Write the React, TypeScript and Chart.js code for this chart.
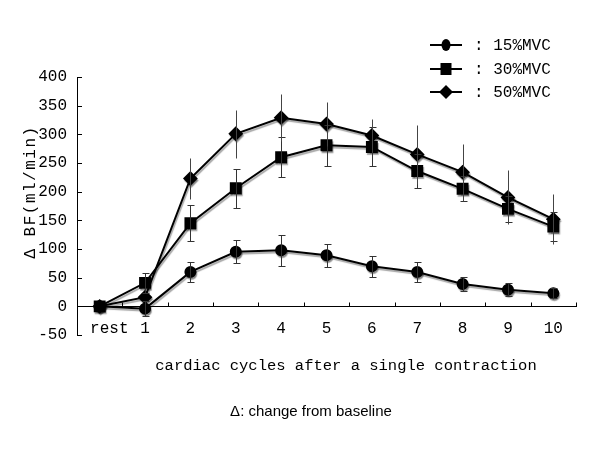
import React, { useEffect, useRef } from 'react';
import { Chart, registerables } from 'chart.js';

Chart.register(...registerables);

const categories = ['rest', '1', '2', '3', '4', '5', '6', '7', '8', '9', '10'];
const seriesLabels = ['15%MVC', '30%MVC', '50%MVC'];

const mvc15 = [0, -4, 60, 95, 98, 89, 70, 60, 39, 29, 23];
const mvc15Err = [0, 13, 17, 20, 27, 20, 18, 18, 13, 11, 9];
const mvc30 = [0, 41, 145, 206, 260, 281, 278, 236, 205, 170, 139];
const mvc30Err = [0, 17, 31, 34, 35, 36, 34, 30, 22, 23, 25];
const mvc50 = [0, 16, 223, 301, 329, 318, 298, 265, 234, 190, 152];
const mvc50Err = [0, 0, 36, 42, 41, 38, 28, 51, 50, 47, 44];

const yMin = -50;
const yMax = 400;
const yStep = 50;

const xTitle = 'cardiac cycles after a single contraction';
const yTitle = 'Δ BF(ml/min)';
const footnote = 'Δ: change from baseline';

const MONO = "'Liberation Mono', 'DejaVu Sans Mono', monospace";
const SANS = "'Liberation Sans', Arial, sans-serif";

function drawMarker(ctx: CanvasRenderingContext2D, style: string, x: number, y: number) {
  ctx.beginPath();
  if (style === 'circle') {
    ctx.ellipse(x, y, 4.5, 6, 0, 0, Math.PI * 2);
  } else if (style === 'rect') {
    ctx.rect(x - 5.5, y - 6, 11, 12);
  } else {
    ctx.moveTo(x, y - 7);
    ctx.lineTo(x + 7, y);
    ctx.lineTo(x, y + 7);
    ctx.lineTo(x - 7, y);
    ctx.closePath();
  }
  ctx.fill();
}

const decorPlugin = {
  id: 'decor',
  beforeDatasetsDraw(chart: any) {
    const ctx = chart.ctx;
    ctx.save();
    ctx.shadowColor = 'rgba(0,0,0,0.35)';
    ctx.shadowOffsetX = 1;
    ctx.shadowOffsetY = 2;
    ctx.shadowBlur = 1;
  },
  afterDatasetsDraw(chart: any) {
    const ctx = chart.ctx;
    ctx.restore();
    const xs = chart.scales.x;
    const ys = chart.scales.y;
    chart.data.datasets.forEach((ds: any) => {
      const errs = ds.errors;
      if (!errs) return;
      ctx.save();
      ctx.strokeStyle = ds.errorColor;
      ctx.lineWidth = 1;
      ds.data.forEach((v: number, i: number) => {
        const e = errs[i];
        if (!e) return;
        const x = Math.round(xs.getPixelForValue(i)) + 0.5;
        const yt = Math.round(ys.getPixelForValue(v + e)) + 0.5;
        const yb = Math.round(ys.getPixelForValue(v - e)) + 0.5;
        ctx.beginPath();
        ctx.moveTo(x, yt);
        ctx.lineTo(x, yb);
        if (ds.errorCap) {
          ctx.moveTo(x - 3, yt);
          ctx.lineTo(x + 4, yt);
          ctx.moveTo(x - 3, yb);
          ctx.lineTo(x + 4, yb);
        }
        ctx.stroke();
      });
      ctx.restore();
    });
  },
  afterDraw(chart: any) {
    const ctx = chart.ctx;
    const xs = chart.scales.x;
    const ys = chart.scales.y;
    ctx.save();
    ctx.strokeStyle = '#000';
    ctx.lineWidth = 1;
    // inward y ticks
    ctx.beginPath();
    for (let v = yMin; v <= yMax; v += yStep) {
      const y = Math.round(ys.getPixelForValue(v)) + 0.5;
      ctx.moveTo(xs.left, y);
      ctx.lineTo(xs.left + 5, y);
    }
    // upward x ticks at category boundaries
    const y0 = Math.round(ys.getPixelForValue(0)) + 0.5;
    for (let i = 1; i <= categories.length; i++) {
      const x = Math.round(xs.getPixelForValue(i - 0.5)) + 0.5;
      ctx.moveTo(x, y0);
      ctx.lineTo(x, y0 - 4);
    }
    ctx.stroke();

    // legend
    const rowY = [45, 69, 92];
    chart.data.datasets.forEach((ds: any, i: number) => {
      const y = rowY[i];
      ctx.strokeStyle = '#000';
      ctx.lineWidth = 2;
      ctx.beginPath();
      ctx.moveTo(430, y);
      ctx.lineTo(462, y);
      ctx.stroke();
      ctx.fillStyle = '#000';
      drawMarker(ctx, ds.pointStyle, 446, y);
      ctx.font = `16px ${MONO}`;
      ctx.textAlign = 'left';
      ctx.textBaseline = 'middle';
      ctx.fillText(': ' + ds.label, 474, y + 1);
    });

    // axis titles
    ctx.fillStyle = '#000';
    ctx.font = `15.5px ${MONO}`;
    ctx.textAlign = 'center';
    ctx.textBaseline = 'alphabetic';
    ctx.fillText(xTitle, 346, 370);

    ctx.save();
    ctx.translate(31, 192);
    ctx.rotate(-Math.PI / 2);
    ctx.font = `16px ${MONO}`;
    (ctx as any).letterSpacing = '1.5px';
    ctx.textBaseline = 'middle';
    ctx.fillText(yTitle, 0, 0);
    ctx.restore();

    ctx.font = `15px ${SANS}`;
    ctx.textAlign = 'center';
    ctx.textBaseline = 'alphabetic';
    ctx.fillText(footnote, 311, 416);
    ctx.restore();
  },
};

export default function App() {
  const ref = useRef<HTMLCanvasElement | null>(null);

  useEffect(() => {
    if (!ref.current) return;
    const tickFont = { family: MONO, size: 16 };
    const chart = new Chart(ref.current, {
      type: 'line',
      data: {
        labels: categories,
        datasets: [
          {
            label: seriesLabels[0],
            data: mvc15,
            errors: mvc15Err,
            errorCap: true,
            errorColor: '#333',
            borderColor: '#000',
            backgroundColor: '#000',
            pointBackgroundColor: '#000',
            pointBorderColor: '#000',
            borderWidth: 2,
            pointStyle: 'circle',
            pointRadius: 5,
            tension: 0,
          } as any,
          {
            label: seriesLabels[1],
            data: mvc30,
            errors: mvc30Err,
            errorCap: true,
            errorColor: '#333',
            borderColor: '#000',
            backgroundColor: '#000',
            pointBackgroundColor: '#000',
            pointBorderColor: '#000',
            borderWidth: 2,
            pointStyle: 'rect',
            pointRadius: 7,
            tension: 0,
          } as any,
          {
            label: seriesLabels[2],
            data: mvc50,
            errors: mvc50Err,
            errorCap: false,
            errorColor: '#444',
            borderColor: '#000',
            backgroundColor: '#000',
            pointBackgroundColor: '#000',
            pointBorderColor: '#000',
            borderWidth: 2,
            pointStyle: 'rectRot',
            pointRadius: 6,
            tension: 0,
          } as any,
        ],
      },
      options: {
        responsive: false,
        animation: false,
        devicePixelRatio: 1,
        layout: { padding: { left: 0, top: 77, right: 24, bottom: 115 } },
        plugins: {
          legend: { display: false },
          tooltip: { enabled: false },
        },
        scales: {
          x: {
            type: 'category',
            offset: true,
            position: { y: 0 } as any,
            grid: { display: false, drawTicks: false, tickLength: 0 },
            border: { display: true, color: '#000', width: 1 },
            ticks: {
              font: tickFont,
              color: '#000',
              padding: 13,
              maxRotation: 0,
              autoSkip: false,
              callback: (_v: any, i: number) => (i === 0 ? '  ' + categories[i] : categories[i]),
            },
          },
          y: {
            min: yMin,
            max: yMax,
            ticks: { stepSize: yStep, font: tickFont, color: '#000', padding: 10 },
            grid: { display: false, drawTicks: false, tickLength: 0 },
            border: { display: true, color: '#000', width: 1 },
            afterFit: (s: any) => {
              s.width = 77;
            },
          },
        },
      } as any,
      plugins: [decorPlugin],
    });
    return () => chart.destroy();
  }, []);

  return (
    <div style={{ position: 'absolute', left: 0, top: 0, width: 600, height: 450, background: '#fff' }}>
      <canvas ref={ref} width={600} height={450} />
    </div>
  );
}
